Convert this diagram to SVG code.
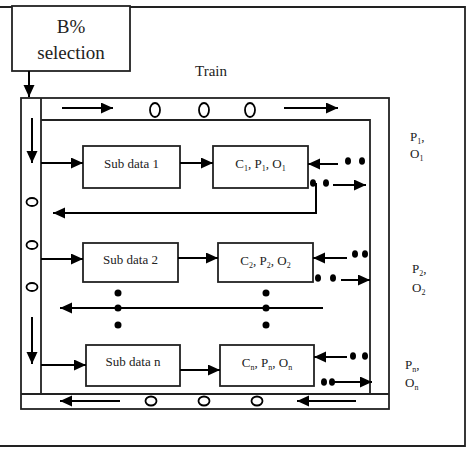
<svg xmlns="http://www.w3.org/2000/svg" width="469" height="450" viewBox="0 0 469 450">
<defs>
<marker id="ah" markerWidth="13" markerHeight="12" refX="12" refY="5.5" orient="auto" markerUnits="userSpaceOnUse"><path d="M0,0 L12,5.5 L0,11 z" fill="#000"/></marker>
<style>
.ln{stroke:#000;stroke-width:2;fill:none}
.ar{stroke:#000;stroke-width:2;fill:none;marker-end:url(#ah)}
.bx{stroke:#222;stroke-width:1.8;fill:#fff}
.fr{stroke:#222;stroke-width:1.8;fill:none}
.t{font-family:"Liberation Serif",serif;fill:#222}
.ov{stroke:#000;stroke-width:1.8;fill:none}
.dot{fill:#000}
</style>
</defs>
<rect width="469" height="450" fill="#fff"/>
<path class="fr" d="M0,7 H465 V446 H0"/>
<g id="selection">
<rect class="bx" x="12" y="6" width="118" height="65"/>
<text class="t" x="71" y="33" font-size="19" text-anchor="middle">B%</text>
<text class="t" x="71" y="59" font-size="19" text-anchor="middle">selection</text>
</g>
<text class="t" x="211" y="76" font-size="15" text-anchor="middle">Train</text>
<g id="frame">
<rect class="fr" x="21" y="98" width="368" height="311"/>
<path class="fr" d="M41,98 V394 M41,120 H370 V394 M21,394 H389"/>
<ellipse class="ov" cx="155" cy="110" rx="5" ry="7"/>
<ellipse class="ov" cx="204" cy="110" rx="5" ry="7"/>
<ellipse class="ov" cx="250" cy="110" rx="5" ry="7"/>
<ellipse class="ov" cx="32" cy="202" rx="5.5" ry="4"/>
<ellipse class="ov" cx="32" cy="245" rx="5.5" ry="4"/>
<ellipse class="ov" cx="32" cy="287" rx="5.5" ry="4"/>
<ellipse class="ov" cx="151" cy="401" rx="5.5" ry="4.5"/>
<ellipse class="ov" cx="204" cy="401" rx="5.5" ry="4.5"/>
<ellipse class="ov" cx="257" cy="401" rx="5.5" ry="4.5"/>
</g>
<g id="sub1">
<rect class="bx" x="83" y="146" width="97" height="42"/>
<text class="t" x="131.5" y="168" font-size="13" text-anchor="middle">Sub data 1</text>
</g>
<g id="c1">
<rect class="bx" x="213" y="146" width="95" height="42"/>
<text class="t" x="260.5" y="168" font-size="13" text-anchor="middle">C<tspan font-size="8" dy="3">1</tspan><tspan dy="-3">, P</tspan><tspan font-size="8" dy="3">1</tspan><tspan dy="-3">, O</tspan><tspan font-size="8" dy="3">1</tspan></text>
</g>
<g id="sub2">
<rect class="bx" x="83" y="243" width="95" height="39"/>
<text class="t" x="130.5" y="264" font-size="13" text-anchor="middle">Sub data 2</text>
</g>
<g id="c2">
<rect class="bx" x="218" y="243" width="95" height="39"/>
<text class="t" x="265.5" y="265" font-size="13" text-anchor="middle">C<tspan font-size="8" dy="3">2</tspan><tspan dy="-3">, P</tspan><tspan font-size="8" dy="3">2</tspan><tspan dy="-3">, O</tspan><tspan font-size="8" dy="3">2</tspan></text>
</g>
<g id="subn">
<rect class="bx" x="86" y="345" width="94" height="41"/>
<text class="t" x="133" y="366" font-size="13" text-anchor="middle">Sub data n</text>
</g>
<g id="cn">
<rect class="bx" x="220" y="345" width="94" height="41"/>
<text class="t" x="267" y="367" font-size="13" text-anchor="middle">C<tspan font-size="8" dy="3">n</tspan><tspan dy="-3">, P</tspan><tspan font-size="8" dy="3">n</tspan><tspan dy="-3">, O</tspan><tspan font-size="8" dy="3">n</tspan></text>
</g>
<g id="labels">
<text class="t" x="410" y="141" font-size="13">P<tspan font-size="8" dy="3">1</tspan><tspan dy="-3">,</tspan></text>
<text class="t" x="410" y="158" font-size="13">O<tspan font-size="8" dy="3">1</tspan></text>
<text class="t" x="412" y="273" font-size="13">P<tspan font-size="8" dy="3">2</tspan><tspan dy="-3">,</tspan></text>
<text class="t" x="412" y="292" font-size="13">O<tspan font-size="8" dy="3">2</tspan></text>
<text class="t" x="405" y="369" font-size="13">P<tspan font-size="8" dy="3">n</tspan><tspan dy="-3">,</tspan></text>
<text class="t" x="405" y="387" font-size="13">O<tspan font-size="8" dy="3">n</tspan></text>
</g>
<g id="connectors">
<path class="ar" d="M29,71 V97"/>
<path class="ar" d="M62,108 H113"/>
<path class="ar" d="M284,108 H338"/>
<path class="ar" d="M32,118 V163"/>
<path class="ar" d="M32,317 V364"/>
<path class="ar" d="M41,163 H83"/>
<path class="ar" d="M180,163 H213"/>
<path class="ar" d="M338,164 H308"/>
<path class="ar" d="M333,185 H366"/>
<path class="ar" d="M316,183 V213 H53"/>
<path class="ar" d="M41,259 H83"/>
<path class="ar" d="M178,258 H218"/>
<path class="ar" d="M347,258 H313"/>
<path class="ar" d="M341,280 H370"/>
<path class="ar" d="M323,308 H60"/>
<path class="ar" d="M41,365 H86"/>
<path class="ar" d="M180,370 H220"/>
<path class="ar" d="M347,357 H314"/>
<path class="ar" d="M332,382 H372"/>
<path class="ar" d="M120,401 H60"/>
<path class="ar" d="M356,401 H297"/>
</g>
<g id="dots">
<ellipse class="dot" cx="348" cy="161" rx="3" ry="3.8"/>
<ellipse class="dot" cx="362" cy="161" rx="3" ry="3.8"/>
<ellipse class="dot" cx="313" cy="183" rx="3" ry="3.8"/>
<ellipse class="dot" cx="326" cy="183" rx="3" ry="3.8"/>
<ellipse class="dot" cx="355" cy="254" rx="3" ry="3.8"/>
<ellipse class="dot" cx="365" cy="254" rx="3" ry="3.8"/>
<ellipse class="dot" cx="318" cy="278" rx="3" ry="3.8"/>
<ellipse class="dot" cx="333" cy="278" rx="3" ry="3.8"/>
<ellipse class="dot" cx="353" cy="356" rx="3" ry="3.8"/>
<ellipse class="dot" cx="365" cy="356" rx="3" ry="3.8"/>
<ellipse class="dot" cx="324" cy="382" rx="3" ry="3.8"/>
<ellipse class="dot" cx="332" cy="382" rx="3" ry="3.8"/>
<circle class="dot" cx="118" cy="293" r="3.5"/>
<circle class="dot" cx="118" cy="308" r="3.5"/>
<circle class="dot" cx="118" cy="325" r="3.5"/>
<circle class="dot" cx="266" cy="293" r="3.5"/>
<circle class="dot" cx="266" cy="308" r="3.5"/>
<circle class="dot" cx="266" cy="325" r="3.5"/>
</g>
</svg>
